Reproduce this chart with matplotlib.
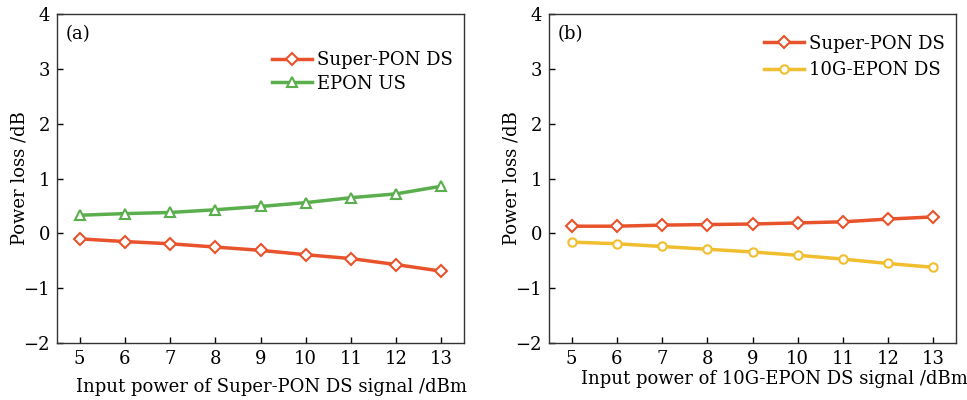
import matplotlib
matplotlib.use("Agg")
import matplotlib.pyplot as plt

x = [5, 6, 7, 8, 9, 10, 11, 12, 13]
a_superpon = [-0.10, -0.15, -0.19, -0.25, -0.31, -0.39, -0.46, -0.57, -0.69]
a_epon_us = [0.33, 0.36, 0.38, 0.43, 0.49, 0.56, 0.65, 0.72, 0.86]
b_superpon = [0.13, 0.13, 0.15, 0.16, 0.17, 0.19, 0.21, 0.26, 0.30]
b_10g_epon = [-0.16, -0.19, -0.24, -0.29, -0.34, -0.40, -0.47, -0.55, -0.62]

plt.rcParams['font.family'] = ['DejaVu Serif']
plt.rcParams['mathtext.fontset'] = 'dejavuserif'

orange = '#E8532B'
green = '#5BAE4E'
yellow = '#F0BE2E'

fig = plt.figure(figsize=(9.67, 4.0), dpi=100)
W, H = 967, 400
ax1 = fig.add_axes([57 / W, 1 - 343 / H, (464 - 57) / W, (343 - 14) / H])
ax2 = fig.add_axes([549 / W, 1 - 343 / H, (956 - 549) / W, (343 - 14) / H])

fs = 13

def style(ax, xlabel, tag, xl_coords, yl_x):
    ax.set_xlim(4.5, 13.5)
    ax.set_ylim(-2, 4)
    ax.set_xticks(x)
    ax.set_yticks([-2, -1, 0, 1, 2, 3, 4])
    ax.set_yticklabels(['\u22122', '\u22121', '0', '1', '2', '3', '4'])
    ax.tick_params(axis='both', labelsize=fs, direction='in', length=4, width=1, top=False, right=False)
    ax.tick_params(axis='x', pad=5)
    ax.tick_params(axis='y', pad=5)
    ax.set_xlabel(xlabel, fontsize=fs)
    ax.xaxis.set_label_coords(*xl_coords)
    ax.set_ylabel('Power loss /dB', fontsize=fs)
    ax.yaxis.set_label_coords(yl_x, 0.5)
    ax.yaxis.label.set_va('center')
    for sp in ax.spines.values():
        sp.set_linewidth(1.0)
        sp.set_color('#333333')
    ax.text(0.02, 0.965, tag, transform=ax.transAxes, fontsize=fs, va='top', ha='left')

ax1.plot(x, a_superpon, color=orange, lw=2.5, marker='D', ms=6, mfc='white', mec=orange, mew=1.5, label='Super-PON DS')
ax1.plot(x, a_epon_us, color=green, lw=2.5, marker='^', ms=7, mfc='white', mec=green, mew=1.5, label='EPON US')
style(ax1, 'Input power of Super-PON DS signal /dBm', '(a)', (0.526, -0.105), -0.093)
ax1.legend(loc='upper right', bbox_to_anchor=(1.0, 0.92), frameon=False, fontsize=fs, handlelength=2.2, handletextpad=0.3, labelspacing=0.3, borderaxespad=0.2)

ax2.plot(x, b_superpon, color=orange, lw=2.5, marker='D', ms=6, mfc='white', mec=orange, mew=1.5, label='Super-PON DS')
ax2.plot(x, b_10g_epon, color=yellow, lw=2.5, marker='o', ms=6, mfc='white', mec=yellow, mew=1.5, label='10G-EPON DS')
style(ax2, 'Input power of 10G-EPON DS signal /dBm', '(b)', (0.555, -0.083), -0.091)
ax2.legend(loc='upper right', bbox_to_anchor=(1.0, 0.97), frameon=False, fontsize=fs, handlelength=2.2, handletextpad=0.3, labelspacing=0.45, borderaxespad=0.2)

fig.savefig('out.png', dpi=100)
